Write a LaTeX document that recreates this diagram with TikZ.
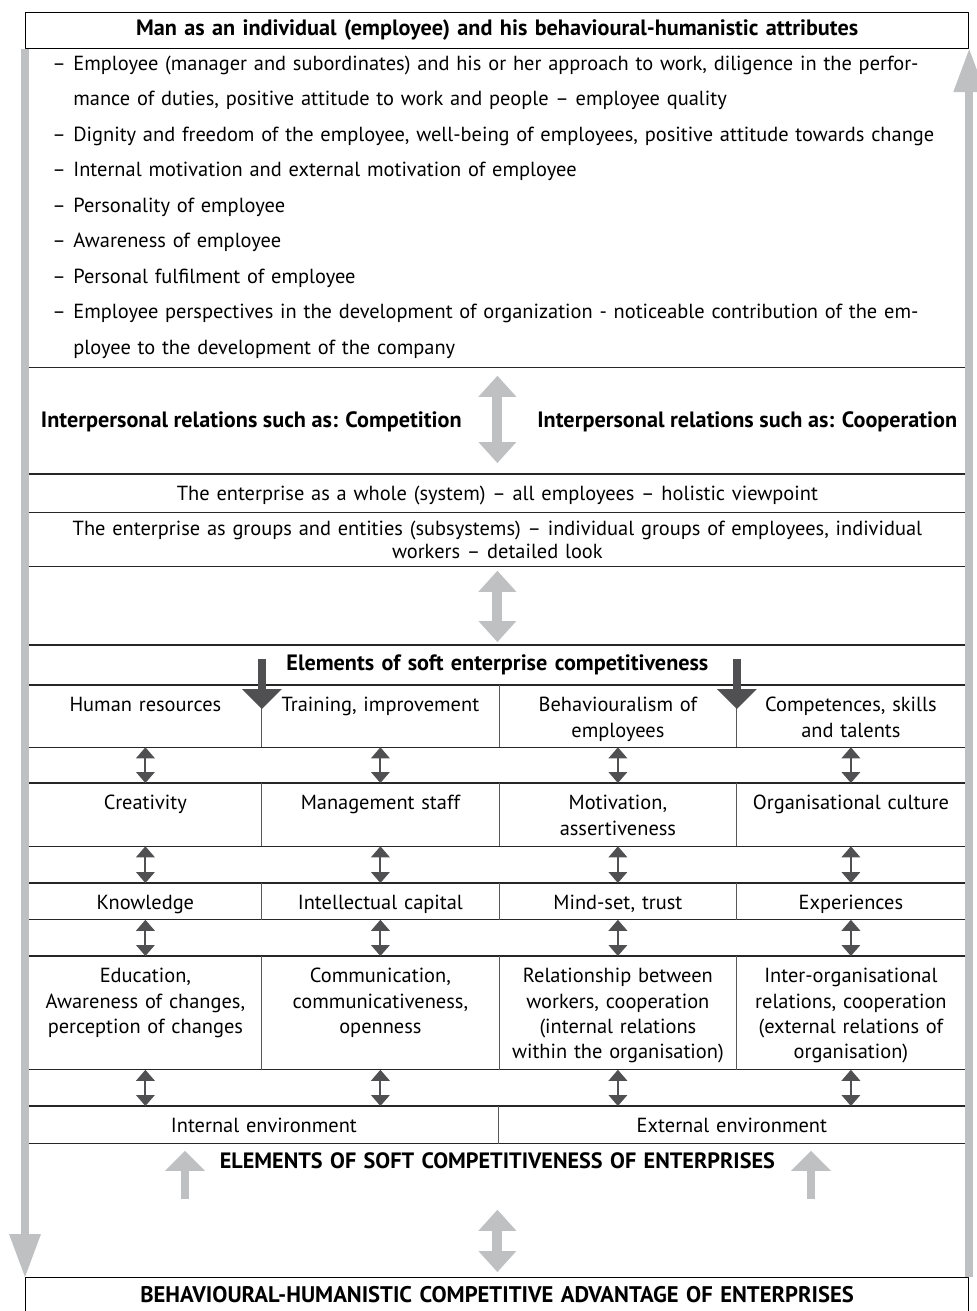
\documentclass[tikz,border=0pt]{standalone}
\usepackage{fontspec}
\setmainfont{PT Sans}
\usetikzlibrary{arrows.meta}
\definecolor{lgray}{RGB}{191,192,194}
\definecolor{dgray}{RGB}{80,80,82}
\newcommand{\cellfont}{\fontsize{10.2}{12.65}\selectfont}
\newcommand{\listfont}{\fontsize{10.2}{17.75}\selectfont}
\newcommand{\grpfont}{\fontsize{10.2}{11.5}\selectfont}
\newcommand{\headfont}{\fontsize{11.1}{12}\selectfont\bfseries}
\newcommand{\advfont}{\fontsize{11.3}{12}\selectfont\bfseries}

\begin{document}
\begin{tikzpicture}[x=0.5pt,y=-0.5pt,line join=round,
	band/.style 2 args={anchor=north west,inner sep=0pt,text width=468pt,align=center,
		text height=#1,text depth=#2,font=\cellfont},
	cell/.style 2 args={anchor=north west,inner sep=0pt,text width=#1,align=center,
		text height=13.25pt,text depth=#2,font=\cellfont},
	box/.style 2 args={draw,line width=0.6pt,anchor=north west,inner sep=0pt,text width=471.5pt,
		align=center,text height=#1,text depth=#2},
	hline/.style={line width=0.6pt,black!85},
	vline/.style={line width=0.5pt,black!65},
	graybar/.style={lgray,line width=4pt,-{Triangle[length=21.5pt,width=16pt,line width=0pt]}},
	graydbl/.style={lgray,line width=5pt,{Triangle[length=10.5pt,width=19pt,line width=0pt]}-{Triangle[length=10.5pt,width=19pt,line width=0pt]}},
	grayup/.style={lgray,line width=4pt,-{Triangle[length=10pt,width=20pt,line width=0pt]}},
	darkdown/.style={dgray,line width=4pt,-{Triangle[length=10pt,width=20pt,line width=0pt]}},
	smalldbl/.style={dgray,line width=1pt,{Triangle[length=5.5pt,width=9.5pt,line width=0pt]}-{Triangle[length=5.5pt,width=9.5pt,line width=0pt]}}]
	\useasboundingbox (0,0) rectangle (976,1311);

	\node[box={11.5pt}{6.5pt},font=\headfont] (title) at (25,12) {Man as an individual (employee) and his behavioural-humanistic attributes};
	\node[band={11pt}{148.5pt},align=left,font=\listfont] (attr) at (29,48) {%
		\hspace*{11.5pt}\makebox[10.5pt][l]{–}Employee (manager and subordinates) and his or her approach to work, diligence in the perfor-\\
		\hspace*{22pt}mance of duties, positive attitude to work and people – employee quality\\
		\hspace*{11.5pt}\makebox[10.5pt][l]{–}Dignity and freedom of the employee, well-being of employees, positive attitude towards change\\
		\hspace*{11.5pt}\makebox[10.5pt][l]{–}Internal motivation and external motivation of employee\\
		\hspace*{11.5pt}\makebox[10.5pt][l]{–}Personality of employee\\
		\hspace*{11.5pt}\makebox[10.5pt][l]{–}Awareness of employee\\
		\hspace*{11.5pt}\makebox[10.5pt][l]{–}Personal fulfilment of employee\\
		\hspace*{11.5pt}\makebox[10.5pt][l]{–}Employee perspectives in the development of organization - noticeable contribution of the em-\\
		\hspace*{22pt}ployee to the development of the company};
	\node[anchor=base east,inner sep=0pt,font=\headfont] (compet) at (462,427) {Interpersonal relations such as: Competition};
	\node[anchor=base west,inner sep=0pt,font=\headfont] (cooper) at (537,427) {Interpersonal relations such as: Cooperation};
	\node[band={13pt}{6pt}] (whole) at (29,474) {The enterprise as a whole (system) – all employees – holistic viewpoint};
	\node[band={11.5pt}{15.5pt},font=\grpfont] (groups) at (29,512) {The enterprise as groups and entities (subsystems) – individual groups of employees, individual\\workers – detailed look};
	\node[band={12.5pt}{7.5pt},font=\headfont] (elem) at (29,645) {Elements of soft enterprise competitiveness};

	\node[cell={116pt}{17.5pt}] (hum) at (29,685) {Human resources};
	\node[cell={119pt}{17.5pt}] (train) at (261,685) {Training, improvement};
	\node[cell={118.5pt}{17.5pt}] (behav) at (499,685) {Behaviouralism of\\employees};
	\node[cell={114.5pt}{17.5pt}] (compt) at (736,685) {Competences, skills\\and talents};

	\node[cell={116pt}{18pt}] (crea) at (29,783) {Creativity};
	\node[cell={119pt}{18pt}] (mgmt) at (261,783) {Management staff};
	\node[cell={118.5pt}{18pt}] (motiv) at (499,783) {Motivation,\\assertiveness};
	\node[cell={114.5pt}{18pt}] (cult) at (736,783) {Organisational culture};

	\node[cell={116pt}{4.75pt}] (know) at (29,883) {Knowledge};
	\node[cell={119pt}{4.75pt}] (intel) at (261,883) {Intellectual capital};
	\node[cell={118.5pt}{4.75pt}] (mind) at (499,883) {Mind-set, trust};
	\node[cell={114.5pt}{4.75pt}] (exper) at (736,883) {Experiences};

	\node[cell={116pt}{43.25pt}] (edu) at (29,956) {Education,\\Awareness of changes,\\perception of changes};
	\node[cell={119pt}{43.25pt}] (comm) at (261,956) {Communication,\\communicativeness,\\openness};
	\node[cell={118.5pt}{43.25pt}] (relat) at (499,956) {Relationship between\\workers, cooperation\\(internal relations\\within the organisation)};
	\node[cell={114.5pt}{43.25pt}] (inter) at (736,956) {Inter-organisational\\relations, cooperation\\(external relations of\\organisation)};

	\node[cell={234.5pt}{5.25pt}] (intenv) at (29,1106) {Internal environment};
	\node[cell={233.5pt}{5.25pt}] (extenv) at (498,1106) {External environment};
	\node[band={12.5pt}{19pt},font=\headfont] (soft) at (29,1143) {ELEMENTS OF SOFT COMPETITIVENESS OF ENTERPRISES};
	\node[box={12.5pt}{4.5pt},font=\advfont] (adv) at (25,1277) {BEHAVIOURAL-HUMANISTIC COMPETITIVE ADVANTAGE OF ENTERPRISES};

	\draw[hline] (attr.south west) -- (attr.south east);
	\draw[hline] (whole.north west) -- (whole.north east) (whole.south west) -- (whole.south east);
	\draw[hline] (groups.south west) -- (groups.south east);
	\draw[hline] (elem.north west) -- (elem.north east);
	\foreach \a/\b in {hum/compt,crea/cult,know/exper,edu/inter,intenv/extenv}{
		\draw[hline] (\a.north west) -- (\b.north east) (\a.south west) -- (\b.south east);}
	\foreach \n in {hum,train,behav,crea,mgmt,motiv,know,intel,mind,edu,comm,relat,intenv}
		{\draw[vline] (\n.north east) -- (\n.south east);}

	\draw[graybar] (title.south west) -- (adv.north west);
	\draw[graybar] (adv.north east) -- (title.south east);
	\draw[graydbl] ([yshift=-4pt]attr.south) -- ([yshift=5.5pt]whole.north);
	\draw[graydbl] ([yshift=-2pt]groups.south) -- ([yshift=1.5pt]elem.north);
	\draw[graydbl] ([yshift=-1.5pt]soft.south) -- ([yshift=2.5pt]soft.south |- adv.north);
	\coordinate (up1) at (185,1199);
	\coordinate (up2) at (811,1199);
	\foreach \c in {up1,up2}
		{\draw[grayup,shorten >=3.5pt] (\c) -- (\c |- intenv.south);}
	\foreach \n in {hum,behav}
		{\draw[darkdown] ([yshift=13pt]\n.north east) -- ([yshift=-12pt]\n.north east);}
	\foreach \a/\b in {hum/crea,train/mgmt,behav/motiv,compt/cult,crea/know,mgmt/intel,motiv/mind,cult/exper,
		know/edu,intel/comm,mind/relat,exper/inter}
		{\draw[smalldbl] (\a.south) -- (\b.north);}
	\foreach \a/\b in {edu/intenv,comm/intenv,relat/extenv,inter/extenv}
		{\draw[smalldbl] (\a.south) -- (\a.south |- \b.north);}
\end{tikzpicture}
\end{document}
